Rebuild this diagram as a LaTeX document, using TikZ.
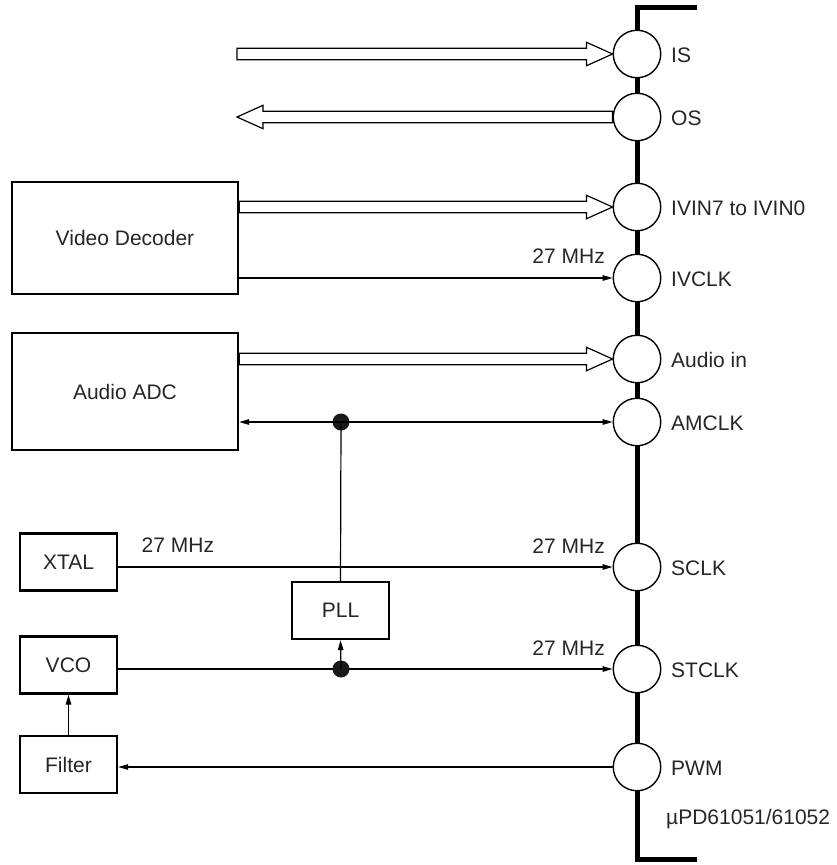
\documentclass[tikz,border=0pt]{standalone}
\usepackage{fontspec}
\setmainfont{Liberation Sans}
\usetikzlibrary{arrows.meta,calc}
\newcommand\hollowarr[3]{%
  \draw[hollow] let \p1=(#1), \p2=(#2) in
    ({\x1},{\y2+5.8pt}) -- ({\x2-(#3pt)},{\y2+5.8pt}) -- ({\x2-(#3pt)},{\y2+11.7pt}) -- ({\x2},{\y2})
    -- ({\x2-(#3pt)},{\y2-11.7pt}) -- ({\x2-(#3pt)},{\y2-5.8pt}) -- ({\x1},{\y2-5.8pt}) -- cycle;}
\begin{document}
\begin{tikzpicture}[x=1pt,y=-1pt,
  txt/.style={font=\fontsize{21}{25}\selectfont, text=black!85},
  blk/.style={draw, line width=2.3pt, fill=white, txt, inner sep=0pt},
  pin/.style={draw, circle, line width=1.4pt, fill=white, minimum size=47.5pt, inner sep=0pt},
  lbl/.style={txt, anchor=west, inner sep=0pt},
  wire/.style={line width=1.2pt},
  tip/.style={-{Triangle[length=10pt,width=5.5pt]}},
  hollow/.style={draw, line width=1.2pt, fill=white, line join=miter},
  bus/.style={line width=5pt, line join=miter},
  dot/.style={circle, fill=black!90, minimum size=17pt, inner sep=0pt}]
\useasboundingbox (0,0) rectangle (837,865);
% bus
\coordinate (bt) at (697,7.5);
\coordinate (bb) at (697,859);
\draw[bus] (bt) -- (637.5,7.5) -- (637.5,859) -- (bb);
% pins
\node[pin] (IS) at (637,54) {};
\node[pin] (OS) at (637,117) {};
\node[pin] (IVIN) at (637,207) {};
\node[pin] (IVCLK) at (637,278) {};
\node[pin] (AIN) at (637,359) {};
\node[pin] (AMCLK) at (637,422) {};
\node[pin] (SCLK) at (637,567) {};
\node[pin] (STCLK) at (637,669) {};
\node[pin] (PWM) at (637,767) {};
% pin labels
\node[lbl] (lIS) at (671,55) {IS};
\node[lbl] (lOS) at (671,118) {OS};
\node[lbl] (lIVIN) at (671,208) {IVIN7 to IVIN0};
\node[lbl] (lIVCLK) at (671,279) {IVCLK};
\node[lbl] (lAIN) at (671,360) {Audio in};
\node[lbl] (lAMCLK) at (671,423) {AMCLK};
\node[lbl] (lSCLK) at (671,568) {SCLK};
\node[lbl] (lSTCLK) at (671,670) {STCLK};
\node[lbl] (lPWM) at (671,768) {PWM};
\node[lbl] (chip) at (666,819) {µPD61051/61052};
% blocks
\node[blk, minimum width=226pt, minimum height=112pt] (VD) at (125,238) {Video Decoder};
\node[blk, minimum width=226pt, minimum height=117pt] (ADC) at (125,391.5) {Audio ADC};
\node[blk, minimum width=97pt, minimum height=57pt] (XTAL) at (68.5,562) {XTAL};
\node[blk, minimum width=97pt, minimum height=57pt] (PLL) at (340.5,610.5) {PLL};
\node[blk, minimum width=97pt, minimum height=57pt] (VCO) at (68.5,665) {VCO};
\node[blk, minimum width=97pt, minimum height=57pt] (FIL) at (68.5,764.5) {Filter};
% hollow bus arrows
\coordinate (ISsrc) at (237,54);
\coordinate (OSdst) at (237,117);
\hollowarr{ISsrc}{IS.west}{26}
\hollowarr{OS.west}{OSdst}{-26}
\hollowarr{VD.east |- IVIN}{IVIN.west}{26}
\hollowarr{ADC.east |- AIN}{AIN.west}{26}
% clock wires
\draw[wire, tip] (VD.east |- IVCLK) -- (IVCLK.west);
\node[dot] (d1) at (341,422) {};
\draw[wire, tip] (d1.center) -- (AMCLK.west);
\draw[wire, tip] (d1.center) -- (ADC.east |- d1);
\draw[wire] (PLL.north) -- (d1.center);
\draw[wire, tip] (XTAL.east |- SCLK) -- (SCLK.west);
\draw[wire, tip] (VCO.east |- STCLK) -- (STCLK.west);
\node[dot] (d2) at (341,669) {};
\draw[wire, tip] (d2.center) -- (PLL.south);
\draw[wire, tip] (PWM.west) -- (FIL.east |- PWM);
\draw[wire, tip] (FIL.north) -- (VCO.south);
% frequency labels
\node[txt, anchor=base east, inner sep=0pt] (f1) at (605,263.5) {27 MHz};
\node[txt, anchor=base east, inner sep=0pt] (f2) at (605,553) {27 MHz};
\node[txt, anchor=base east, inner sep=0pt] (f3) at (605,655) {27 MHz};
\node[txt, anchor=base west, inner sep=0pt] (f4) at (141.5,552) {27 MHz};
\end{tikzpicture}
\end{document}
